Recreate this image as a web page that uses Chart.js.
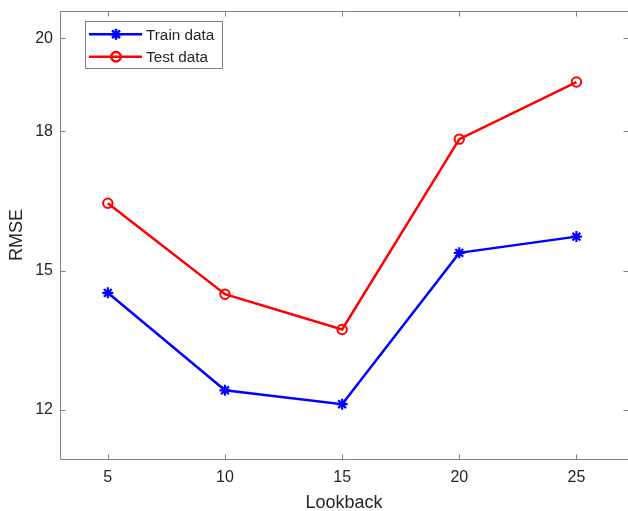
<!DOCTYPE html>
<html>
<head>
<meta charset="utf-8">
<script src="https://cdn.jsdelivr.net/npm/chart.js@4"></script>
<style>
  html, body { margin: 0; padding: 0; background: #ffffff; }
  canvas { display: block; }
</style>
</head>
<body>
<canvas id="chart" width="628" height="511"></canvas>
<script>
// Lookback window vs. RMSE for the train and test splits
const lookback = [5, 10, 15, 20, 25];
const trainRMSE = [14.52, 12.42, 12.12, 15.38, 15.73];
const testRMSE = [16.45, 14.49, 13.73, 17.83, 19.06];
const xTicks = [5, 10, 15, 20, 25];
const yTicks = [12, 15, 18, 20];

const FONT = '"Liberation Sans", Arial, Helvetica, sans-serif';
const AXIS_COLOR = '#7f7f7f';
const TEXT_COLOR = '#262626';

const toPoints = (xs, ys) => xs.map((x, i) => ({ x: x, y: ys[i] }));

// Boxed axes with inward ticks on all four sides
const framePlugin = {
  id: 'frame',
  afterDatasetsDraw(chart) {
    const { ctx, chartArea: a, scales } = chart;
    const L = Math.round(a.left) + 0.5, R = Math.round(a.right) + 0.5;
    const T = Math.round(a.top) + 0.5, B = Math.round(a.bottom) + 0.5;
    const len = 5;
    ctx.save();
    ctx.strokeStyle = AXIS_COLOR;
    ctx.lineWidth = 1;
    ctx.beginPath();
    ctx.rect(L, T, R - L, B - T);
    xTicks.forEach(v => {
      const px = Math.round(scales.x.getPixelForValue(v)) + 0.5;
      ctx.moveTo(px, B); ctx.lineTo(px, B - len);
      ctx.moveTo(px, T); ctx.lineTo(px, T + len);
    });
    yTicks.forEach(v => {
      const py = Math.round(scales.y.getPixelForValue(v)) + 0.5;
      ctx.moveTo(L, py); ctx.lineTo(L + len, py);
      ctx.moveTo(R, py); ctx.lineTo(R - len, py);
    });
    ctx.stroke();
    ctx.restore();
  }
};

// Legend box in the upper-left corner of the plot area
const legendPlugin = {
  id: 'boxLegend',
  afterDraw(chart) {
    const { ctx } = chart;
    const box = { x: 85.5, y: 21.5, w: 137, h: 47 };
    const rows = [34.3, 56.7];
    ctx.save();
    ctx.fillStyle = '#ffffff';
    ctx.fillRect(box.x, box.y, box.w, box.h);
    ctx.strokeStyle = AXIS_COLOR;
    ctx.lineWidth = 1;
    ctx.strokeRect(box.x, box.y, box.w, box.h);
    chart.data.datasets.forEach((ds, i) => {
      const y = rows[i];
      ctx.strokeStyle = ds.borderColor;
      ctx.lineWidth = ds.borderWidth;
      ctx.beginPath();
      ctx.moveTo(89, y);
      ctx.lineTo(142, y);
      ctx.stroke();
      ctx.strokeStyle = ds.pointBorderColor;
      ctx.fillStyle = ds.pointBackgroundColor;
      Chart.helpers.drawPoint(ctx, {
        pointStyle: ds.pointStyle,
        radius: ds.pointRadius,
        borderWidth: ds.pointBorderWidth,
        rotation: 0
      }, 116, y);
      ctx.fillStyle = TEXT_COLOR;
      ctx.font = '15.3px ' + FONT;
      ctx.textAlign = 'left';
      ctx.textBaseline = 'middle';
      ctx.fillText(ds.label, 146, y + 1);
    });
    ctx.restore();
  }
};

new Chart(document.getElementById('chart'), {
  type: 'line',
  data: {
    datasets: [
      {
        label: 'Train data',
        data: toPoints(lookback, trainRMSE),
        borderColor: '#0000ff',
        backgroundColor: '#0000ff',
        borderWidth: 2.5,
        pointStyle: 'star',
        pointRadius: 5.5,
        pointBorderWidth: 2.2,
        pointBorderColor: '#0000ff',
        pointBackgroundColor: '#0000ff',
        tension: 0
      },
      {
        label: 'Test data',
        data: toPoints(lookback, testRMSE),
        borderColor: '#ff0000',
        backgroundColor: 'rgba(0,0,0,0)',
        borderWidth: 2.5,
        pointStyle: 'circle',
        pointRadius: 4.7,
        pointBorderWidth: 2,
        pointBorderColor: '#ff0000',
        pointBackgroundColor: 'rgba(0,0,0,0)',
        tension: 0
      }
    ]
  },
  options: {
    responsive: false,
    animation: false,
    events: [],
    layout: { autoPadding: false, padding: { left: 0, right: 0, top: 11, bottom: 0 } },
    plugins: {
      legend: { display: false },
      tooltip: { enabled: false }
    },
    scales: {
      x: {
        type: 'linear',
        min: 2.96,
        max: 27.2,
        afterBuildTicks: s => { s.ticks = xTicks.map(v => ({ value: v })); },
        afterFit: s => { s.height = 52; s.paddingLeft = 0; s.paddingRight = 0; },
        grid: { display: false, drawTicks: false },
        border: { display: false },
        ticks: {
          color: TEXT_COLOR,
          font: { family: FONT, size: 16 },
          padding: 9,
          maxRotation: 0
        },
        title: {
          display: true,
          text: 'Lookback',
          color: TEXT_COLOR,
          font: { family: FONT, size: 18, lineHeight: 1 },
          padding: { top: 0, bottom: -1 }
        }
      },
      y: {
        type: 'linear',
        min: 10.94,
        max: 20.59,
        afterBuildTicks: s => { s.ticks = yTicks.map(v => ({ value: v })); },
        afterFit: s => { s.width = 60; s.paddingTop = 0; s.paddingBottom = 0; },
        grid: { display: false, drawTicks: false },
        border: { display: false },
        ticks: {
          color: TEXT_COLOR,
          font: { family: FONT, size: 16 },
          padding: 7
        },
        title: {
          display: true,
          text: 'RMSE',
          color: TEXT_COLOR,
          font: { family: FONT, size: 18, lineHeight: 1 },
          padding: { top: 8.5, bottom: 0 }
        }
      }
    }
  },
  plugins: [framePlugin, legendPlugin]
});
</script>
</body>
</html>
